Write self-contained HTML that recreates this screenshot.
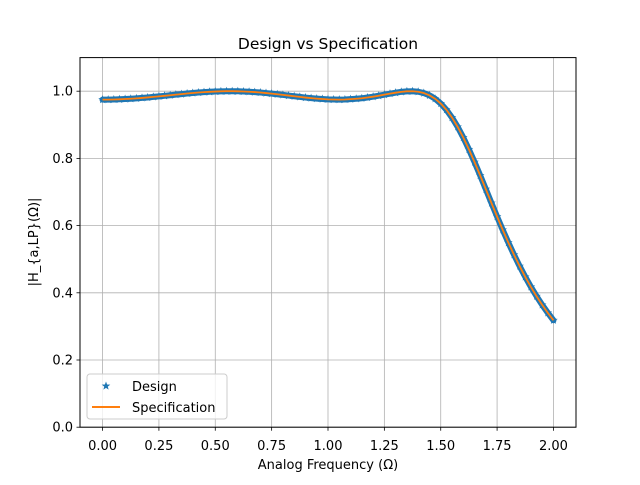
<!DOCTYPE html>
<html><head><meta charset="utf-8"><style>
html,body{margin:0;padding:0;background:#fff;}
svg text{font-family:"DejaVu Sans","Liberation Sans",sans-serif;fill:#000;}
</style></head><body>
<svg id="chart" width="640" height="480" viewBox="0 0 640 480" xmlns="http://www.w3.org/2000/svg">
<rect width="640" height="480" fill="#fff"/>
<g id="grid"></g>
<g id="series"></g>
<rect x="80" y="57.6" width="496" height="369.6" fill="none" stroke="#000" stroke-width="1"/>
<g id="ticks"></g>
<text x="328" y="49" font-size="15.5" text-anchor="middle">Design vs Specification</text>
<text x="328" y="469" font-size="13" text-anchor="middle">Analog Frequency (Ω)</text>
<text transform="translate(38,242) rotate(-90)" font-size="13" text-anchor="middle">|H_{a,LP}(Ω)|</text>
<g>
<rect x="87" y="374" width="140" height="45" rx="3" fill="#fff" fill-opacity="0.8" stroke="#ccc"/>
<polygon id="legstar" fill="#1f77b4"/>
<text x="132" y="391" font-size="13">Design</text>
<line x1="92" y1="407" x2="120" y2="407" stroke="#ff7f0e" stroke-width="2"/>
<text x="132" y="412" font-size="13">Specification</text>
</g>
</svg>
<script>
const xStep = 0.025;
const designValues = [0.975,0.975,0.9754,0.9759,0.9767,0.9776,0.9787,0.9800,0.9814,0.9830,0.9846,0.9863,0.9880,0.9898,0.9914,0.9931,0.9946,0.9960,0.9972,0.9982,0.9990,0.9996,1.0,1.0,0.9997,0.9992,0.9984,0.9974,0.9961,0.9945,0.9928,0.9910,0.9890,0.9870,0.9850,0.9830,0.9811,0.9794,0.9779,0.9767,0.9757,0.9752,0.975,0.9752,0.9765,0.9776,0.9789,0.9812,0.9837,0.9866,0.9897,0.9927,0.9956,0.9981,0.9996,0.9999,0.9984,0.9945,0.9878,0.9776,0.9633,0.9447,0.9215,0.8939,0.8622,0.8269,0.7890,0.7492,0.7084,0.6673,0.6267,0.5872,0.5494,0.5133,0.4793,0.4473,0.4175,0.3898,0.3641,0.3403,0.3182];
const specValues = designValues.slice();
const xTicks = [0,0.25,0.5,0.75,1.0,1.25,1.5,1.75,2.0];
const xTickLabels = ["0.00","0.25","0.50","0.75","1.00","1.25","1.50","1.75","2.00"];
const yTicks = [0,0.2,0.4,0.6,0.8,1.0];
const yTickLabels = ["0.0","0.2","0.4","0.6","0.8","1.0"];

const NS="http://www.w3.org/2000/svg";
const X0=80,X1=576,Y0=427.2,Y1=57.6,xmin=-0.1,xmax=2.1,ymin=0,ymax=1.1;
function sx(v){return X0+(v-xmin)/(xmax-xmin)*(X1-X0);}
function sy(v){return Y0-(v-ymin)/(ymax-ymin)*(Y0-Y1);}
function mk(tag,attrs,parent){const e=document.createElementNS(NS,tag);for(const k in attrs)e.setAttribute(k,attrs[k]);parent.appendChild(e);return e;}
function starPts(cx,cy,r){let p=[];for(let i=0;i<10;i++){const a=-Math.PI/2+i*Math.PI/5;const rr=i%2?r*0.42:r;p.push((cx+rr*Math.cos(a)).toFixed(2)+","+(cy+rr*Math.sin(a)).toFixed(2));}return p.join(" ");}
const grid=document.getElementById('grid'),ticks=document.getElementById('ticks'),series=document.getElementById('series');
xTicks.forEach((t,i)=>{
  const x=sx(t);
  const g=mk('line',{x1:x,x2:x,y1:Y1,y2:Y0,stroke:'#b0b0b0','stroke-width':0.8},grid);
  
  
  const tk=mk('line',{x1:x,x2:x,y1:Y0,y2:Y0+3.5,stroke:'#000','stroke-width':0.8},ticks);
  
  
  const tl=mk('text',{x:x,y:Y0+23,'font-size':13,'text-anchor':'middle'},ticks);
  tl.textContent=xTickLabels[i];
  
  
});
yTicks.forEach((t,i)=>{
  const y=sy(t);
  const g=mk('line',{x1:X0,x2:X1,y1:y,y2:y,stroke:'#b0b0b0','stroke-width':0.8},grid);
  
  
  const tk=mk('line',{x1:X0-3.5,x2:X0,y1:y,y2:y,stroke:'#000','stroke-width':0.8},ticks);
  
  
  const tl=mk('text',{x:X0-7,y:y+4.5,'font-size':13,'text-anchor':'end'},ticks);
  tl.textContent=yTickLabels[i];
  
  
});
const designPts=designValues.map((v,i)=>sx(i*xStep).toFixed(2)+","+sy(v).toFixed(2)).join(" ");
const band=mk('polyline',{points:designPts,fill:'none',stroke:'#1f77b4','stroke-width':6,'stroke-linejoin':'round','stroke-linecap':'round'},series);


designValues.forEach((v,i)=>{
  const s=mk('polygon',{points:starPts(sx(i*xStep),sy(v),4.5),fill:'#1f77b4'},series);
  
  
});
const pts=specValues.map((v,i)=>sx(i*xStep).toFixed(2)+","+sy(v).toFixed(2)).join(" ");
const line=mk('polyline',{points:pts,fill:'none',stroke:'#ff7f0e','stroke-width':1.8,'stroke-linejoin':'round'},series);


document.getElementById('legstar').setAttribute('points',starPts(106,386,4.5));
</script>
</body></html>
